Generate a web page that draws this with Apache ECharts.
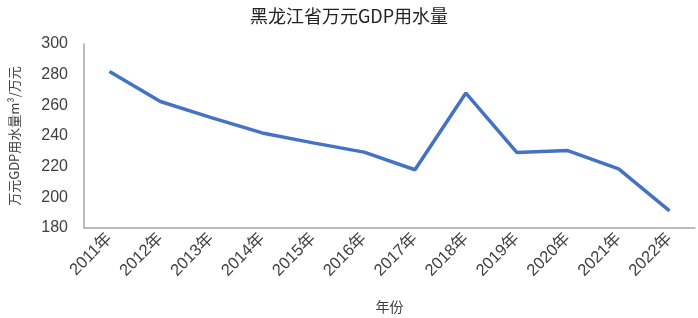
<!DOCTYPE html>
<html><head><meta charset="utf-8">
<script src="https://cdn.jsdelivr.net/npm/echarts@6/dist/echarts.min.js"></script>
<style>html,body{margin:0;padding:0;background:#fff}#c{width:698px;height:318px}</style>
</head><body><div id="c"></div>
<script>
const categories = ['2011年','2012年','2013年','2014年','2015年','2016年','2017年','2018年','2019年','2020年','2021年','2022年'];
const values = [282, 262.5, 252, 242, 235.5, 229.5, 218, 268, 229.3, 230.5, 218.5, 191.2];
const yTicks = {min: 180, max: 300, interval: 20};

const chart = echarts.init(document.getElementById('c'));
chart.setOption({
  animation: false,
  title: {text: '黑龙江省万元GDP用水量', left: 'center', top: 2,
    textStyle: {fontSize: 18, fontWeight: 'normal', color: '#222', fontFamily: 'Noto Sans CJK SC'}},
  grid: {left: 84, right: 3, top: 44, bottom: 90, containLabel: false, outerBoundsMode: 'none'},
  xAxis: {type: 'category', data: categories, boundaryGap: true,
    name: '年份', nameLocation: 'middle', nameGap: 72,
    nameTextStyle: {fontSize: 14, color: '#404040', fontFamily: 'Noto Sans CJK SC'},
    axisLine: {lineStyle: {color: '#a6a6a6', width: 1.5}},
    axisTick: {show: false},
    axisLabel: {rotate: 45, fontSize: 16.5, color: '#404040', margin: 8, fontFamily: 'Liberation Sans, Noto Sans CJK SC'}},
  yAxis: {type: 'value', min: yTicks.min, max: yTicks.max, interval: yTicks.interval,
    name: '万元GDP用水量m³/万元', nameLocation: 'middle', nameGap: 63, nameRotate: 90,
    nameTextStyle: {fontSize: 13, color: '#404040', fontFamily: 'Noto Sans CJK SC'},
    axisLine: {show: true, lineStyle: {color: '#a6a6a6', width: 1.5}},
    axisTick: {show: false}, splitLine: {show: false},
    axisLabel: {fontSize: 16, color: '#404040', margin: 16, fontFamily: 'Liberation Sans'}},
  series: [{type: 'line', data: values, symbol: 'none',
    lineStyle: {color: '#4472C4', width: 3.5}}]
});
</script></body></html>
